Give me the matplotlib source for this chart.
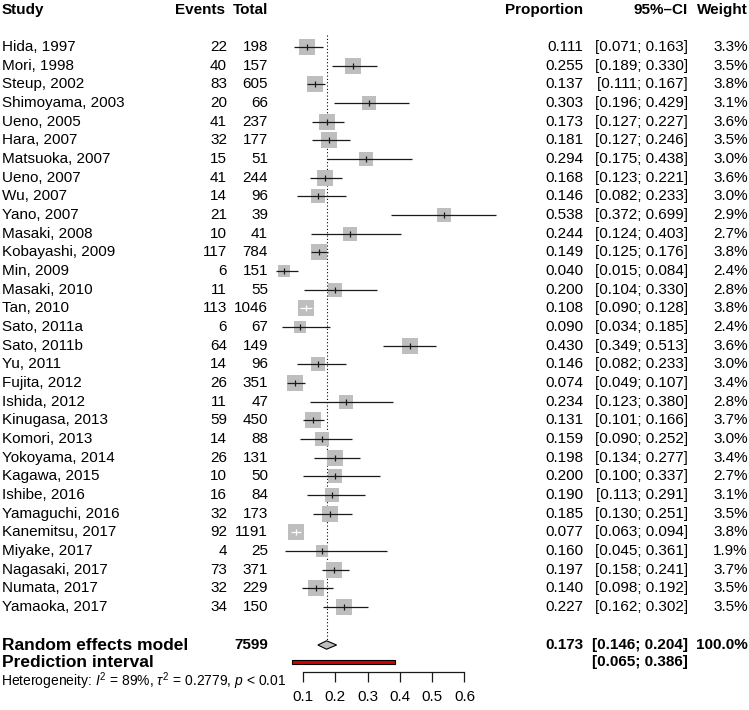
import matplotlib
matplotlib.use("Agg")
import matplotlib.pyplot as plt
from matplotlib.transforms import blended_transform_factory
import numpy as np

studies = ["Hida, 1997", "Mori, 1998", "Steup, 2002", "Shimoyama, 2003", "Ueno, 2005",
           "Hara, 2007", "Matsuoka, 2007", "Ueno, 2007", "Wu, 2007", "Yano, 2007",
           "Masaki, 2008", "Kobayashi, 2009", "Min, 2009", "Masaki, 2010", "Tan, 2010",
           "Sato, 2011a", "Sato, 2011b", "Yu, 2011", "Fujita, 2012", "Ishida, 2012",
           "Kinugasa, 2013", "Komori, 2013", "Yokoyama, 2014", "Kagawa, 2015", "Ishibe, 2016",
           "Yamaguchi, 2016", "Kanemitsu, 2017", "Miyake, 2017", "Nagasaki, 2017",
           "Numata, 2017", "Yamaoka, 2017"]
events = [22, 40, 83, 20, 41, 32, 15, 41, 14, 21, 10, 117, 6, 11, 113, 6, 64, 14, 26, 11,
          59, 14, 26, 10, 16, 32, 92, 4, 73, 32, 34]
totals = [198, 157, 605, 66, 237, 177, 51, 244, 96, 39, 41, 784, 151, 55, 1046, 67, 149, 96,
          351, 47, 450, 88, 131, 50, 84, 173, 1191, 25, 371, 229, 150]
props = [0.111, 0.255, 0.137, 0.303, 0.173, 0.181, 0.294, 0.168, 0.146, 0.538, 0.244, 0.149,
         0.040, 0.200, 0.108, 0.090, 0.430, 0.146, 0.074, 0.234, 0.131, 0.159, 0.198, 0.200,
         0.190, 0.185, 0.077, 0.160, 0.197, 0.140, 0.227]
lower = [0.071, 0.189, 0.111, 0.196, 0.127, 0.127, 0.175, 0.123, 0.082, 0.372, 0.124, 0.125,
         0.015, 0.104, 0.090, 0.034, 0.349, 0.082, 0.049, 0.123, 0.101, 0.090, 0.134, 0.100,
         0.113, 0.130, 0.063, 0.045, 0.158, 0.098, 0.162]
upper = [0.163, 0.330, 0.167, 0.429, 0.227, 0.246, 0.438, 0.221, 0.233, 0.699, 0.403, 0.176,
         0.084, 0.330, 0.128, 0.185, 0.513, 0.233, 0.107, 0.380, 0.166, 0.252, 0.277, 0.337,
         0.291, 0.251, 0.094, 0.361, 0.241, 0.192, 0.302]
weights = [3.3, 3.5, 3.8, 3.1, 3.6, 3.5, 3.0, 3.6, 3.0, 2.9, 2.7, 3.8, 2.4, 2.8, 3.8, 2.4, 3.6,
           3.0, 3.4, 2.8, 3.7, 3.0, 3.4, 2.7, 3.1, 3.5, 3.8, 1.9, 3.7, 3.5, 3.5]

re_total = 7599
re_est, re_lo, re_hi = 0.173, 0.146, 0.204
re_weight = "100.0%"
pi_lo, pi_hi = 0.065, 0.386
xticks = [0.1, 0.2, 0.3, 0.4, 0.5, 0.6]
xticklabels = ["0.1", "0.2", "0.3", "0.4", "0.5", "0.6"]

plt.rcParams['font.family'] = ['Liberation Sans', 'DejaVu Sans']
plt.rcParams['mathtext.fontset'] = 'custom'
plt.rcParams['mathtext.rm'] = 'Liberation Sans'
plt.rcParams['mathtext.it'] = 'Liberation Sans:italic'
plt.rcParams['mathtext.bf'] = 'Liberation Sans:bold'

W, H = 749, 710
fig = plt.figure(figsize=(W / 100, H / 100), dpi=100)
ax = fig.add_axes([0, 0, 1, 1])
ax.set_axis_off()

# pixel mapping: x pixel = 303 + (p-0.1)*323 ; row r at y pixel = 47 + r*18.67
PX_PER_UNIT = 323.0
X0PIX = 303.0
ROW0, ROWH = 47.0, 18.67
xlim = (0.1 - X0PIX / PX_PER_UNIT, 0.1 + (W - X0PIX) / PX_PER_UNIT)
ax.set_xlim(*xlim)
ax.set_ylim((H - ROW0) / ROWH, -ROW0 / ROWH)

def prow(py):
    return (py - ROW0) / ROWH

tr = blended_transform_factory(ax.transAxes, ax.transData)
FS = 11
FSB = 12.5

def col(px):
    return px / W

def txt(px, y, s, ha='right', bold=False, fs=FS):
    ax.text(col(px), y, s, ha=ha, va='center', fontsize=fs,
            fontweight='bold' if bold else 'normal', transform=tr)

# headers
hy = prow(10)
txt(2, hy, "Study", ha='left', bold=True)
txt(225, hy, "Events", bold=True)
txt(268, hy, "Total", bold=True)
txt(583, hy, "Proportion", bold=True)
txt(688, hy, "95%\u2013CI", bold=True)
txt(748, hy, "Weight", bold=True)

n = len(studies)
rows = np.arange(n)
K = 8.36  # px per sqrt(weight)
for i in range(n):
    y = rows[i]
    txt(2, y, studies[i], ha='left')
    txt(227, y, str(events[i]))
    txt(268, y, str(totals[i]))
    txt(583, y, f"{props[i]:.3f}")
    txt(688, y, f"[{lower[i]:.3f}; {upper[i]:.3f}]")
    txt(748, y, f"{weights[i]:.1f}%")

    side_px = K * np.sqrt(weights[i])
    side_pt = side_px * 72 / 100
    ax.scatter([props[i]], [y], marker='s', s=side_pt ** 2, color='#bebebe',
               linewidths=0, zorder=2)
    half = side_px / 2 / PX_PER_UNIT
    inside = (lower[i] > props[i] - half) and (upper[i] < props[i] + half)
    lc = 'white' if inside else '#1a1a1a'
    ax.plot([lower[i], upper[i]], [y, y], color=lc, lw=0.9, zorder=3, solid_capstyle='butt')
    ax.plot([props[i]], [y], marker='|', markersize=4.5, markeredgewidth=0.9, color=lc, zorder=4)

# reference dotted line
ax.vlines(re_est, prow(35), prow(640), colors='black', linestyles=(0, (1, 2)), lw=0.8, zorder=1)

# random effects
rey = prow(645)
txt(2, rey, "Random effects model", ha='left', bold=True, fs=FSB)
txt(268, rey, str(re_total), bold=True)
txt(583, rey, f"{re_est:.3f}", bold=True)
txt(688, rey, f"[{re_lo:.3f}; {re_hi:.3f}]", bold=True)
txt(748, rey, re_weight, bold=True)
dh = 4.2 / ROWH
ax.fill([re_lo, re_est, re_hi, re_est], [rey, rey - dh, rey, rey + dh],
        facecolor='#bebebe', edgecolor='black', lw=0.8, zorder=3)

# prediction interval
piy = prow(662)
txt(2, piy, "Prediction interval", ha='left', bold=True, fs=FSB)
txt(688, piy, f"[{pi_lo:.3f}; {pi_hi:.3f}]", bold=True)
ph = 2.2 / ROWH
ax.fill([pi_lo, pi_hi, pi_hi, pi_lo], [piy - ph, piy - ph, piy + ph, piy + ph],
        facecolor='#d40000', edgecolor='black', lw=0.8, zorder=3)

# heterogeneity
ax.text(col(1), prow(681), r"Heterogeneity: $I^2$ = 89%, $\tau^2$ = 0.2779, $p$ < 0.01",
        ha='left', va='center', fontsize=10, transform=tr)

# x axis as separate axes
axx = fig.add_axes([0, (H - 672) / H, 1, 0.001])
axx.set_xlim(*xlim)
axx.set_facecolor('none')
for s in ['top', 'left', 'right']:
    axx.spines[s].set_visible(False)
axx.spines['bottom'].set_bounds(xticks[0], xticks[-1])
axx.spines['bottom'].set_linewidth(0.9)
axx.spines['bottom'].set_color('#1a1a1a')
axx.set_yticks([])
axx.set_xticks(xticks)
axx.set_xticklabels(xticklabels, fontsize=FS)
axx.tick_params(axis='x', direction='out', length=7.2, width=0.9, color='#1a1a1a', pad=6)

fig.savefig("out.png", dpi=100)
